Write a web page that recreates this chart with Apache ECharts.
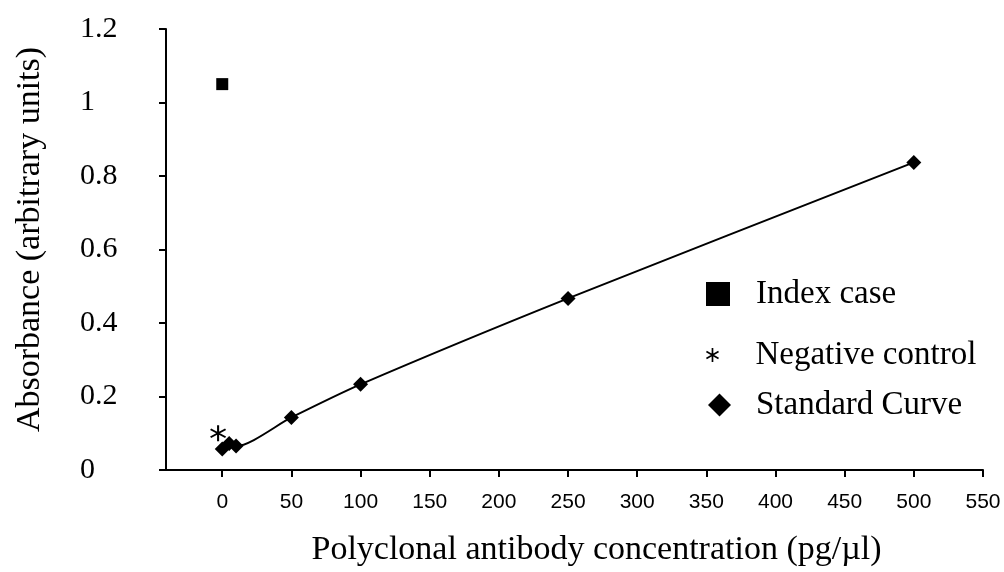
<!DOCTYPE html>
<html>
<head>
<meta charset="utf-8">
<script src="https://cdn.jsdelivr.net/npm/echarts@6/dist/echarts.min.js"></script>
<style>
  html, body { margin: 0; padding: 0; background: #fff; }
  #chart { width: 1004px; height: 572px; }
</style>
</head>
<body>
<div id="chart"></div>
<script>
// Concentration (pg/µl) and absorbance readings
const standardConc = [0, 5, 10, 50, 100, 250, 500];
const standardAbs = [0.057, 0.072, 0.065, 0.143, 0.233, 0.467, 0.837];
const indexCase = [[0, 1.05]];
const negativeControl = [[-3, 0.10]];

const xTicks = [0, 50, 100, 150, 200, 250, 300, 350, 400, 450, 500, 550];
const yTicks = [0, 0.2, 0.4, 0.6, 0.8, 1, 1.2];

const seriesNames = ['Index case', 'Negative control', 'Standard Curve'];

const serif = '"Liberation Serif", "Times New Roman", serif';
const sans = '"Liberation Sans", Arial, sans-serif';

// six-armed asterisk marker
const asteriskPath = 'path://M44 0 L56 0 L56 100 L44 100 Z ' +
  'M3.7 30.2 L9.7 19.8 L96.3 69.8 L90.3 80.2 Z ' +
  'M90.3 19.8 L96.3 30.2 L9.7 80.2 L3.7 69.8 Z';

const chart = echarts.init(document.getElementById('chart'), null, { renderer: 'canvas' });

function legendItem(name, icon, w, h, left, top, pad) {
  return {
    data: [{ name: name, icon: icon }],
    left: left, top: top, padding: 0,
    itemWidth: w, itemHeight: h,
    selectedMode: false,
    inactiveColor: '#000',
    itemStyle: { color: '#000', opacity: 1 },
    textStyle: { fontFamily: serif, fontSize: 33, color: '#000', lineHeight: 40, padding: [0, 0, 0, pad] }
  };
}

chart.setOption({
  animation: false,
  backgroundColor: '#fff',
  grid: { left: 160, right: 21, top: 29, bottom: 101, containLabel: false },
  legend: [
    legendItem(seriesNames[0], 'rect', 24, 24, 706, 274, 21),
    legendItem(seriesNames[1], asteriskPath, 14, 14, 706, 335, 31),
    legendItem(seriesNames[2], 'diamond', 23, 23, 708, 385, 20)
  ],
  xAxis: {
    type: 'value',
    min: -45, max: 550,
    splitLine: { show: false },
    axisLine: { onZero: false, lineStyle: { color: '#000', width: 2 } },
    axisTick: { show: true, length: 7, lineStyle: { color: '#000', width: 2 }, customValues: xTicks },
    axisLabel: { customValues: xTicks, fontFamily: sans, fontSize: 21, color: '#000', margin: 22 },
    name: 'Polyclonal antibody concentration (pg/\u00b5l)',
    nameLocation: 'middle',
    nameGap: 63,
    nameTextStyle: { fontFamily: serif, fontSize: 34, color: '#000', padding: [0, 0, 0, 50] }
  },
  yAxis: {
    type: 'value',
    min: 0, max: 1.2, interval: 0.2,
    offset: -6,
    splitLine: { show: false },
    axisLine: { show: true, onZero: false, lineStyle: { color: '#000', width: 2 } },
    axisTick: { show: true, length: 7, lineStyle: { color: '#000', width: 2 } },
    axisLabel: {
      customValues: yTicks,
      formatter: v => String(Math.round(v * 10) / 10),
      fontFamily: serif, fontSize: 30, color: '#000', align: 'left', margin: 86
    },
    name: 'Absorbance (arbitrary units)',
    nameLocation: 'middle',
    nameGap: 119,
    nameTextStyle: { fontFamily: serif, fontSize: 34, color: '#000', padding: [0, 0, 0, 20] }
  },
  series: [
    {
      name: seriesNames[0],
      type: 'scatter',
      data: indexCase,
      symbol: 'rect',
      symbolSize: 12,
      itemStyle: { color: '#000', opacity: 1 }
    },
    {
      name: seriesNames[1],
      type: 'scatter',
      data: negativeControl,
      symbol: asteriskPath,
      symbolSize: 16,
      itemStyle: { color: '#000', opacity: 1 }
    },
    {
      name: seriesNames[2],
      type: 'line',
      data: standardConc.map((c, i) => [c, standardAbs[i]]),
      smooth: 0.25,
      symbol: 'diamond',
      symbolSize: 15,
      showAllSymbol: true,
      lineStyle: { color: '#000', width: 2 },
      itemStyle: { color: '#000', opacity: 1 }
    }
  ]
});
</script>
</body>
</html>
